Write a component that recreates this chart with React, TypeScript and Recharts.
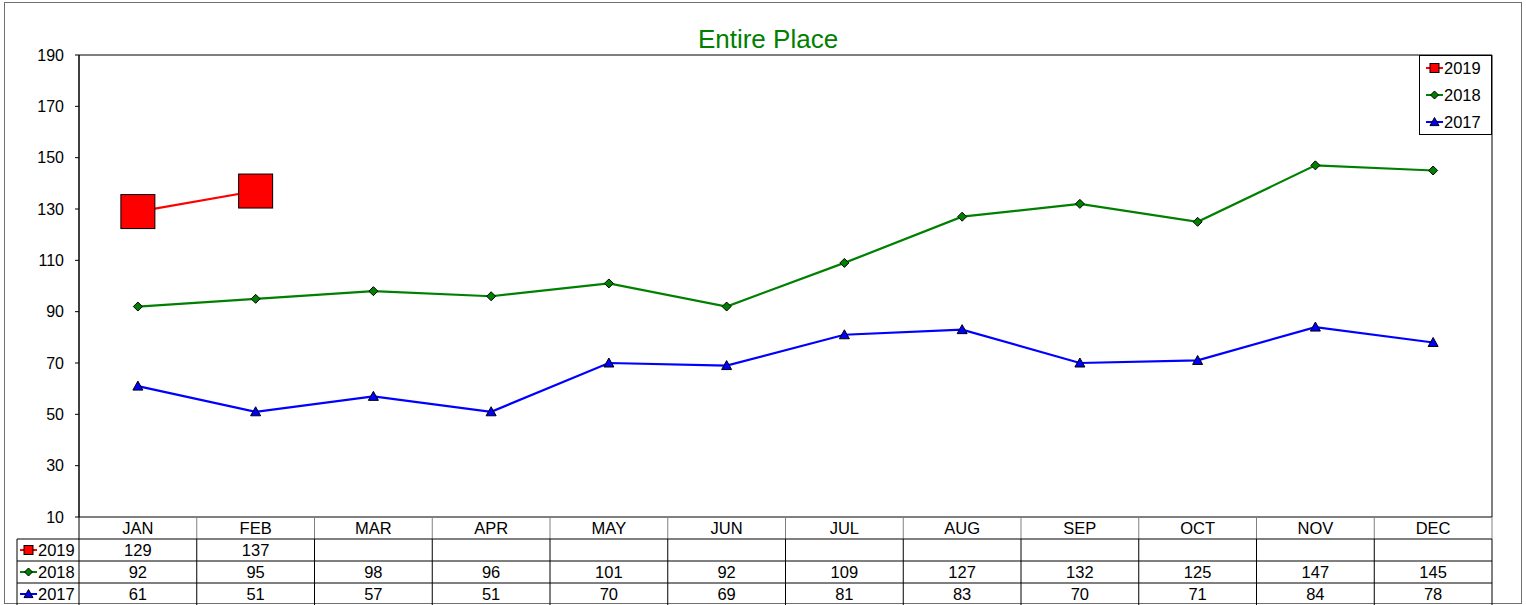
import React from 'react';
import { LineChart, Line, XAxis, YAxis, ReferenceArea, Legend } from 'recharts';

const months = ['JAN', 'FEB', 'MAR', 'APR', 'MAY', 'JUN', 'JUL', 'AUG', 'SEP', 'OCT', 'NOV', 'DEC'];
const values2019: (number | null)[] = [129, 137, null, null, null, null, null, null, null, null, null, null];
const values2018 = [92, 95, 98, 96, 101, 92, 109, 127, 132, 125, 147, 145];
const values2017 = [61, 51, 57, 51, 70, 69, 81, 83, 70, 71, 84, 78];
const yTicks = [10, 30, 50, 70, 90, 110, 130, 150, 170, 190];

const FONT = 'Arial, "Liberation Sans", sans-serif';
const W = 1526;
const H = 605;
const PLOT_LEFT = 79;
const PLOT_RIGHT = 1492;
const PLOT_TOP = 55;
const PLOT_BOTTOM = 517;
const ROW_H = 22;
const COL_W = (PLOT_RIGHT - PLOT_LEFT) / months.length;
const LABEL_LEFT = 17;

const series = [
  { key: 'y2019', name: '2019', color: '#ff0000', shape: 'square', values: values2019 },
  { key: 'y2018', name: '2018', color: '#008000', shape: 'diamond', values: values2018 },
  { key: 'y2017', name: '2017', color: '#0000ff', shape: 'triangle', values: values2017 },
];

const data = months.map((m, i) => ({
  month: m,
  y2019: values2019[i],
  y2018: values2018[i],
  y2017: values2017[i],
}));

function Marker({ shape, cx, cy, size, color }: { shape: string; cx: number; cy: number; size: number; color: string }) {
  const h = size / 2;
  if (shape === 'square') {
    return <rect x={cx - h} y={cy - h} width={size} height={size} fill={color} stroke="#000" strokeWidth={1} />;
  }
  if (shape === 'diamond') {
    return (
      <polygon
        points={`${cx},${cy - h} ${cx + h},${cy} ${cx},${cy + h} ${cx - h},${cy}`}
        fill={color}
        stroke="#000"
        strokeWidth={1}
      />
    );
  }
  return (
    <polygon
      points={`${cx},${cy - h} ${cx + h},${cy + h * 0.8} ${cx - h},${cy + h * 0.8}`}
      fill={color}
      stroke="#000"
      strokeWidth={1}
    />
  );
}

const makeDot = (shape: string, size: number, color: string) => (props: any) => {
  const { cx, cy, index, value } = props;
  if (value == null || cx == null || cy == null) return <g key={`d-${shape}-${index}`} />;
  return (
    <g key={`d-${shape}-${index}`}>
      <Marker shape={shape} cx={cx} cy={cy} size={size} color={color} />
    </g>
  );
};

function LegendIcon({ x, y, s }: { x: number; y: number; s: (typeof series)[number] }) {
  const size = s.shape === 'square' ? 9 : s.shape === 'diamond' ? 8 : 9;
  return (
    <g>
      <line x1={x} y1={y} x2={x + 17} y2={y} stroke={s.color} strokeWidth={2} />
      <Marker shape={s.shape} cx={x + 8.5} cy={y} size={size} color={s.color} />
    </g>
  );
}

// each x tick draws its own column of the data table
function TableColumn(props: any) {
  const { x, payload } = props;
  const i = months.indexOf(payload.value);
  const left = x - COL_W / 2;
  const right = x + COL_W / 2;
  const top = PLOT_BOTTOM;
  const textProps = { textAnchor: 'middle' as const, fontSize: 16.5, fontFamily: FONT, fill: '#000' };
  return (
    <g>
      <line x1={right} y1={top} x2={right} y2={top + ROW_H} stroke="#808080" strokeWidth={1} />
      <line x1={right} y1={top + ROW_H} x2={right} y2={H} stroke="#000" strokeWidth={1} />
      <text x={x} y={top + ROW_H / 2 + 6} {...textProps}>{payload.value}</text>
      {series.map((s, r) => {
        const rowTop = top + ROW_H * (r + 1);
        const v = s.values[i];
        return (
          <g key={s.key}>
            <line x1={left} y1={rowTop} x2={right} y2={rowTop} stroke="#000" strokeWidth={1} />
            {v != null && (
              <text x={x} y={rowTop + ROW_H / 2 + 6} {...textProps}>{v}</text>
            )}
          </g>
        );
      })}
      {i === 0 && (
        <g>
          <line x1={PLOT_LEFT} y1={top} x2={PLOT_LEFT} y2={H} stroke="#000" strokeWidth={1} />
          <line x1={LABEL_LEFT} y1={top + ROW_H} x2={LABEL_LEFT} y2={H} stroke="#000" strokeWidth={1} />
          {series.map((s, r) => {
            const rowTop = top + ROW_H * (r + 1);
            return (
              <g key={s.key}>
                <line x1={LABEL_LEFT} y1={rowTop} x2={PLOT_LEFT} y2={rowTop} stroke="#000" strokeWidth={1} />
                <LegendIcon x={LABEL_LEFT + 3} y={rowTop + ROW_H / 2} s={s} />
                <text x={LABEL_LEFT + 21} y={rowTop + ROW_H / 2 + 6} fontSize={16.5} fontFamily={FONT} fill="#000">
                  {s.name}
                </text>
              </g>
            );
          })}
        </g>
      )}
    </g>
  );
}

function LegendBox() {
  return (
    <svg width={73} height={80} style={{ display: 'block' }}>
      <rect x={0.5} y={0.5} width={72} height={79} fill="#fff" stroke="#000" strokeWidth={1} />
      {series.map((s, r) => {
        const cy = 13 + r * 27;
        return (
          <g key={s.key}>
            <LegendIcon x={7} y={cy} s={s} />
            <text x={25} y={cy + 6} fontSize={16.5} fontFamily={FONT} fill="#000">
              {s.name}
            </text>
          </g>
        );
      })}
    </svg>
  );
}

export default function App() {
  return (
    <div style={{ position: 'absolute', left: 0, top: 0, width: W, height: H, background: '#fff', fontFamily: FONT }}>
      <div
        style={{
          position: 'absolute',
          left: 4,
          top: 2,
          width: 1518,
          height: 602,
          border: '1px solid #707070',
          boxSizing: 'border-box',
        }}
      />
      <div
        style={{
          position: 'absolute',
          left: 0,
          top: 24,
          width: 1536,
          textAlign: 'center',
          color: '#008000',
          fontSize: 26,
          lineHeight: '30px',
          fontFamily: FONT,
        }}
      >
        Entire Place
      </div>
      <LineChart
        width={W}
        height={H}
        data={data}
        margin={{ top: PLOT_TOP, right: W - PLOT_RIGHT, bottom: 0, left: 0 }}
        style={{ position: 'absolute', left: 0, top: 0 }}
      >
        <ReferenceArea y1={10} y2={190} fill="none" stroke="#000" strokeWidth={1} strokeOpacity={1} fillOpacity={0} />
        <XAxis
          dataKey="month"
          scale="band"
          height={H - PLOT_BOTTOM}
          axisLine={false}
          tickLine={false}
          tickSize={0}
          tickMargin={0}
          interval={0}
          tick={<TableColumn />}
        />
        <YAxis
          width={PLOT_LEFT}
          domain={[10, 190]}
          ticks={yTicks}
          allowDataOverflow
          axisLine={{ stroke: '#000' }}
          tickLine={{ stroke: '#000' }}
          tickSize={4}
          tickMargin={11}
          tick={{ fontSize: 16, fill: '#000', fontFamily: FONT }}
        />
        <Legend
          layout="vertical"
          align="center"
          verticalAlign="middle"
          content={() => <LegendBox />}
          wrapperStyle={{ position: 'absolute', left: 1419, top: PLOT_TOP, width: 73, height: 80 }}
        />
        <Line
          dataKey="y2017"
          name="2017"
          stroke="#0000ff"
          strokeWidth={2.2}
          dot={makeDot('triangle', 10, '#0000ff')}
          activeDot={false}
          isAnimationActive={false}
        />
        <Line
          dataKey="y2018"
          name="2018"
          stroke="#008000"
          strokeWidth={2.2}
          dot={makeDot('diamond', 9, '#008000')}
          activeDot={false}
          isAnimationActive={false}
        />
        <Line
          dataKey="y2019"
          name="2019"
          stroke="#ff0000"
          strokeWidth={2.2}
          dot={makeDot('square', 34, '#ff0000')}
          activeDot={false}
          isAnimationActive={false}
        />
      </LineChart>
    </div>
  );
}
